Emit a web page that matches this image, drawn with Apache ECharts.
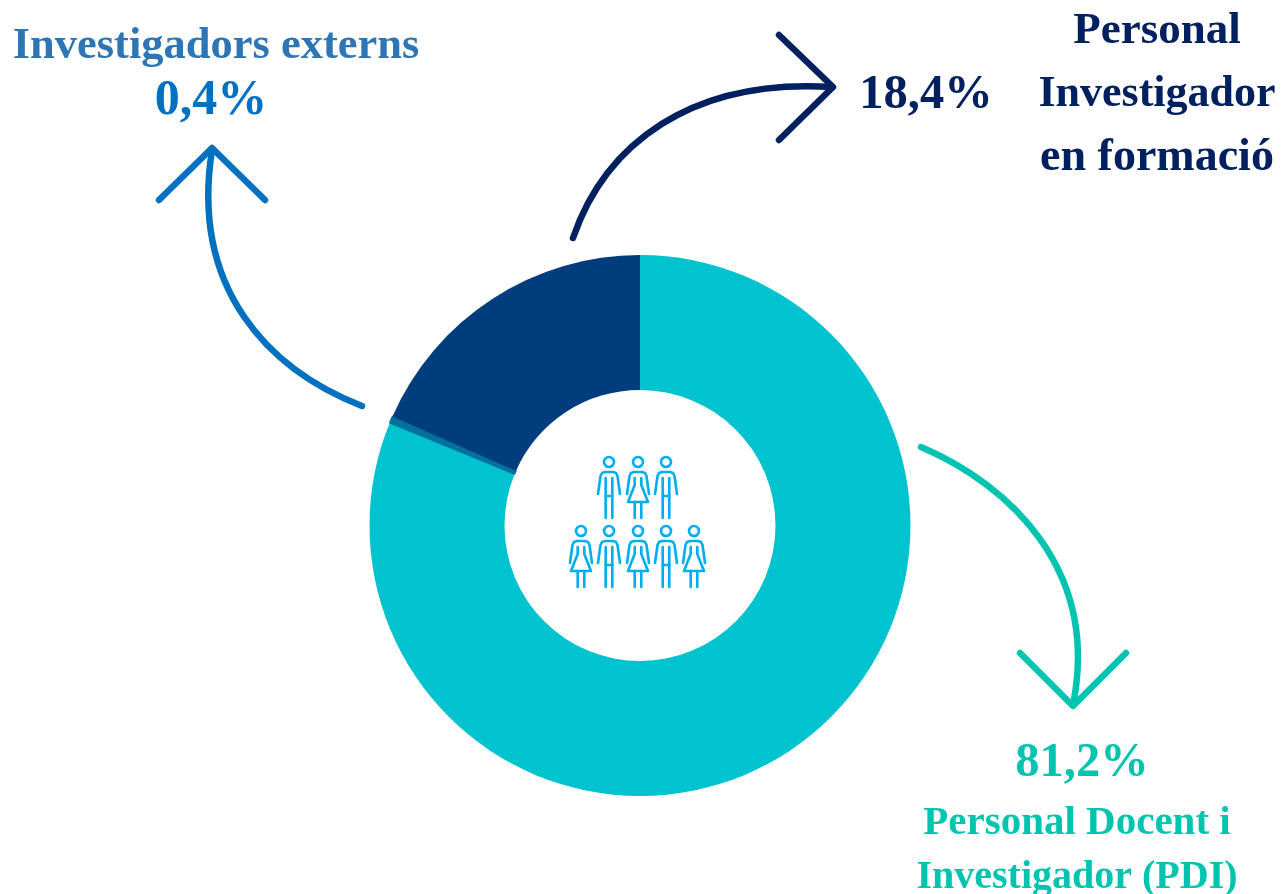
<!DOCTYPE html>
<html>
<head>
<meta charset="utf-8">
<style>
  html, body { margin: 0; padding: 0; background: #fff; }
  #main { width: 1282px; height: 894px; }
</style>
<script src="https://cdn.jsdelivr.net/npm/echarts@6/dist/echarts.min.js"></script>
</head>
<body>
<div id="main"></div>
<script>
const categories = ["Personal Docent i Investigador (PDI)", "Investigadors externs", "Personal Investigador en formació"];
const values = [81.2, 0.4, 18.4];
const sliceColors = ["#00C3CF", "#00709F", "#003D7C"];

const FONT = '"Liberation Serif", serif';
const ICON_BLUE = "#00AEEF";

// person outlines, relative to the head centre
const ARMS = [[-11, 32], [-8.5, 14], [-7, 11], [-4, 10], [4, 10], [7, 11], [8.5, 14], [11, 32]];
const MAN = [
  [[-3.3, 16], [-3.3, 56]],
  [[3.3, 16], [3.3, 56]],
  [[-3.3, 34], [3.3, 34]]
];
const WOMAN = [
  [[-3.3, 16], [-3.3, 23], [-10, 40], [10, 40], [3.3, 23], [3.3, 16]],
  [[-3.3, 40], [-3.3, 56]],
  [[3.3, 40], [3.3, 56]]
];

const people = [
  [609, 462, MAN], [638, 462, WOMAN], [666, 462, MAN],
  [581, 531, WOMAN], [609, 531, MAN], [638, 531, WOMAN], [666, 531, MAN], [694, 531, WOMAN]
];

function strokeStyle(color, width) {
  return { fill: null, stroke: color, lineWidth: width, lineCap: "round", lineJoin: "round" };
}

function curve(p, color) {
  return {
    type: "bezierCurve",
    shape: { x1: p[0], y1: p[1], cpx1: p[2], cpy1: p[3], cpx2: p[4], cpy2: p[5], x2: p[6], y2: p[7] },
    style: strokeStyle(color, 6.5)
  };
}

function head(points, color) {
  return { type: "polyline", shape: { points: points }, style: strokeStyle(color, 6.5) };
}

function label(text, x, y, size, color) {
  return {
    type: "text",
    x: x,
    y: y,
    style: {
      text: text,
      fill: color,
      font: "bold " + size + "px " + FONT,
      textAlign: "center",
      textVerticalAlign: "middle"
    }
  };
}

const graphics = [
  // arrows
  curve([362, 406, 270, 370, 190, 290, 212, 150], "#0070C0"),
  head([[159, 200], [212, 148], [265, 200]], "#0070C0"),
  curve([573, 238, 605, 145, 690, 78, 832, 87], "#002060"),
  head([[779, 35], [833, 87], [779, 140]], "#002060"),
  curve([921, 447, 1010, 485, 1100, 570, 1073, 705], "#00C4B0"),
  head([[1020, 653], [1073, 706], [1126, 653]], "#00C4B0"),
  // labels
  label("Investigadors externs", 216, 46, 44.5, "#2E75B6"),
  label("0,4%", 211, 101, 50, "#0070C0"),
  label("18,4%", 926, 95, 48.5, "#002060"),
  label("Personal", 1157, 31, 45, "#002060"),
  label("Investigador", 1157, 95, 44, "#002060"),
  label("en formació", 1157, 158, 46, "#002060"),
  label("81,2%", 1082, 763, 48.5, "#00C4B0"),
  label("Personal Docent i", 1077, 823, 41, "#00C4B0"),
  label("Investigador (PDI)", 1077, 878, 40, "#00C4B0")
];

people.forEach(function (p) {
  const children = [
    { type: "circle", shape: { cx: 0, cy: 0, r: 5 }, style: strokeStyle(ICON_BLUE, 2.6) },
    { type: "polyline", shape: { points: ARMS }, style: strokeStyle(ICON_BLUE, 2.6) }
  ];
  p[2].forEach(function (pts) {
    children.push({ type: "polyline", shape: { points: pts }, style: strokeStyle(ICON_BLUE, 2.6) });
  });
  graphics.push({ type: "group", x: p[0], y: p[1], children: children });
});

const chart = echarts.init(document.getElementById("main"));
chart.setOption({
  backgroundColor: "#fff",
  animation: false,
  graphic: graphics,
  series: [
    {
      type: "pie",
      center: [640, 525.5],
      radius: [135.5, 270.5],
      startAngle: 90,
      clockwise: true,
      silent: true,
      label: { show: false },
      labelLine: { show: false },
      data: categories.map(function (name, i) {
        return {
          name: name,
          value: values[i],
          // the thin slice reads a little wider in the reference
          itemStyle: { color: sliceColors[i], borderColor: sliceColors[i], borderWidth: i === 1 ? 1.5 : 0 }
        };
      })
    }
  ]
});
</script>
</body>
</html>
